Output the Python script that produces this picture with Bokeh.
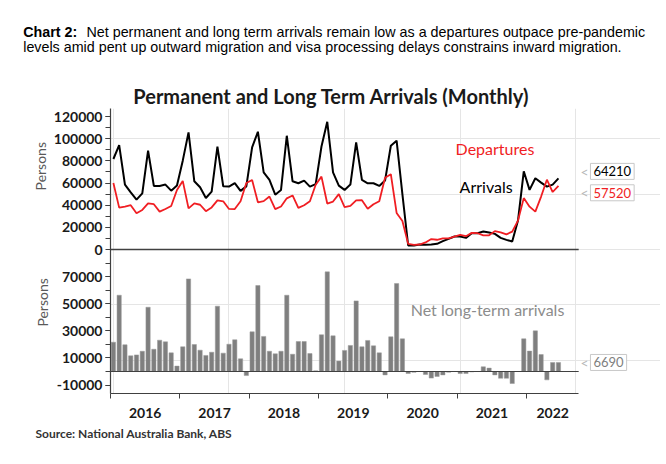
import math
from bokeh.plotting import figure
from bokeh.layouts import column, row
from bokeh.models import Range1d, LinearAxis, FixedTicker, Label
from bokeh.embed import file_html
from bokeh.resources import INLINE

# ---------------- data (monthly, Jan 2016 - Jun 2022) ----------------
years = ["2016", "2017", "2018", "2019", "2020", "2021", "2022"]

arrivals = [
    81700, 94300, 58600, 51600, 45000, 50700, 89200, 57400, 57400, 58600, 53100, 57700,
    80200, 105700, 61600, 56200, 46500, 52300, 92800, 57100, 56800, 60000, 52900, 57000,
    92200, 106300, 69700, 62800, 49500, 53800, 102700, 61600, 59800, 62200, 56800, 59000,
    93000, 115300, 69700, 57700, 53800, 58600, 96700, 62800, 59800, 59800, 57400, 62200,
    93700, 98200, 50000, 3600, 3600, 4500, 4200, 4500, 5100, 7500, 9600, 11700,
    11700, 10500, 14700, 14700, 16200, 15300, 14100, 10500, 8700, 7200, 26100, 70600,
    53800, 64300, 60400, 56800, 58600, 64210,
]

departures = [
    60000, 37800, 38800, 40000, 32700, 35700, 41600, 40900, 34200, 36600, 39300, 53700,
    61900, 37100, 41600, 40400, 34600, 38000, 44400, 43500, 36600, 36500, 43500, 60000,
    62800, 42600, 43700, 47800, 36400, 38800, 46200, 48800, 37600, 40000, 43500, 58500,
    65800, 41500, 43300, 50000, 38200, 39300, 44400, 44500, 36800, 40800, 43600, 64700,
    68000, 33000, 25800, 5100, 4200, 4500, 6400, 9400, 8800, 10000, 10100, 11700,
    13200, 12000, 15000, 14700, 12700, 12800, 16600, 15500, 13700, 16100, 26100, 46400,
    38700, 34200, 47800, 63000, 51900, 57520,
]

net = [
    21700, 56500, 19800, 11600, 12300, 15000, 47600, 16500, 23200, 22000, 13800, 4000,
    18300, 68600, 20000, 15800, 11900, 14300, 48400, 13600, 20200, 23500, 9400, -3000,
    29400, 63700, 26000, 15000, 13100, 15000, 56500, 12800, 22200, 22200, 13300, 500,
    27200, 73800, 26400, 7700, 15600, 19300, 52300, 18300, 23000, 19000, 13800, -2500,
    25700, 65200, 24200, -1500, -600, 0, -2200, -4900, -3700, -2500, -500, 0,
    -1500, -1500, -300, 0, 3500, 2500, -2500, -5000, -5000, -8900, 0, 24200,
    15100, 30100, 12600, -6200, 6700, 6690,
]

top_ticks = [0, 20000, 40000, 60000, 80000, 100000, 120000]
net_ticks = [-10000, 10000, 30000, 50000, 70000]

months = list(range(len(arrivals)))

# ---------------- layout constants (page pixels) ----------------
TOTAL_W = 660
HEAD_H = 108          # header strip: 0..108
MAIN_H = 316          # main chart: 108..424
FOOT_H = 28           # footer: 424..452
LEFT_W = 50           # strip holding the "Persons" labels
MAIN_W = TOTAL_W - LEFT_W
FRAME_L = 110         # page x of plot frame left
FRAME_T = HEAD_H      # page y of plot frame top
FRAME_B = 393         # page y of plot frame bottom
MONTH_PX = 5.78
TOP_ZERO_Y, TOP_PER_PX = 249, 902.8     # upper panel: page y of 0, persons per px
NET_ZERO_Y, NET_PER_PX = 371, 740.7     # lower panel

X_LO = -0.5
X_AX_END = 80.5
X_HI = X_LO + (TOTAL_W - FRAME_L) / MONTH_PX
TOP_LO = -(FRAME_B - TOP_ZERO_Y) * TOP_PER_PX
TOP_HI = (TOP_ZERO_Y - FRAME_T) * TOP_PER_PX
NET_LO = -(FRAME_B - NET_ZERO_Y) * NET_PER_PX
NET_HI = (NET_ZERO_Y - FRAME_T) * NET_PER_PX
FONT = "Lato"
AX = "#404040"


def to_top(v):
    return TOP_LO + (v - NET_LO) / (NET_HI - NET_LO) * (TOP_HI - TOP_LO)


def blank(w, h, x0, y0):
    """figure whose data coordinates equal page pixel coordinates"""
    f = figure(width=w, height=h, output_backend="svg", toolbar_location=None,
               x_range=Range1d(x0, x0 + w), y_range=Range1d(y0 + h, y0),
               min_border=0, x_axis_location=None, y_axis_location=None, title=None)
    f.outline_line_color = None
    f.center = []
    f.renderers = []
    return f


# ---------------- header ----------------
HF = "14.3px"
head = blank(TOTAL_W, HEAD_H, 0, 0)
head.add_layout(Label(x=22.7, y=31.5, text="Chart 2:", text_font="Liberation Sans",
                      text_font_style="bold", text_font_size=HF, text_color="black",
                      text_baseline="alphabetic"))
head.add_layout(Label(x=86, y=31.5,
                      text="Net permanent and long term arrivals remain low as a departures outpace pre-pandemic",
                      text_font="Liberation Sans", text_font_size=HF, text_color="black",
                      text_baseline="alphabetic"))
head.add_layout(Label(x=22.7, y=46.5,
                      text="levels amid pent up outward migration and visa processing delays constrains inward migration.",
                      text_font="Liberation Sans", text_font_size=HF, text_color="black",
                      text_baseline="alphabetic"))
head.add_layout(Label(x=331, y=95, text="Permanent and Long Term Arrivals (Monthly)",
                      text_font=FONT, text_font_style="bold", text_font_size="20px",
                      text_color="#1a1a1a", text_align="center", text_baseline="middle"))

# ---------------- left strip ----------------
left = blank(LEFT_W, MAIN_H, 0, HEAD_H)
for px, py in [(40, 172), (42, 323)]:
    left.add_layout(Label(x=px, y=py, text="Persons", text_font=FONT, text_font_size="14px",
                          text_color="#595959", angle=math.pi / 2, text_align="center",
                          text_baseline="middle"))

# ---------------- footer ----------------
foot = blank(TOTAL_W, FOOT_H, 0, HEAD_H + MAIN_H)
foot.add_layout(Label(x=35, y=433, text="Source: National Australia Bank, ABS", text_font=FONT,
                      text_font_style="bold", text_font_size="12px", text_color="#333333",
                      text_baseline="middle"))

# ---------------- main chart ----------------
p = figure(width=MAIN_W, height=MAIN_H, output_backend="svg", toolbar_location=None,
           x_range=Range1d(X_LO, X_HI), y_range=Range1d(TOP_LO, TOP_HI),
           x_axis_location=None, y_axis_location=None, title=None,
           min_border_left=FRAME_L - LEFT_W, min_border_right=0, min_border_top=0,
           min_border_bottom=HEAD_H + MAIN_H - FRAME_B)
p.extra_y_ranges = {"net": Range1d(NET_LO, NET_HI)}
p.outline_line_color = None

p.vbar(x=months, top=net, bottom=0, width=0.74, fill_color="#7f7f7f",
       line_color="#9a9a9a", line_width=0.5, y_range_name="net")
p.line(months, arrivals, line_color="black", line_width=2)
p.line(months, departures, line_color="#f01e23", line_width=1.8)

# zero rules of both panels, ending where the time axis ends
p.segment(x0=[X_LO], x1=[X_AX_END], y0=[0], y1=[0], line_color=AX, line_width=1.5)
p.segment(x0=[X_LO], x1=[X_AX_END], y0=[0], y1=[0], line_color=AX, line_width=1.2,
          y_range_name="net")

# left axis shared by both panels
top_minor = list(range(10000, 130000, 10000))
net_minor = list(range(-10000, 90000, 10000))
yt = [float(t) for t in top_ticks] + [round(to_top(v), 3) for v in net_ticks]
ym = [float(t) for t in top_minor] + [round(to_top(v), 3) for v in net_minor]
overrides = {}
for t in top_ticks:
    overrides[float(t)] = str(t)
for v in net_ticks:
    overrides[round(to_top(v), 3)] = str(v)

yax = LinearAxis(ticker=FixedTicker(ticks=yt, minor_ticks=ym),
                 major_label_overrides=overrides,
                 axis_line_color=AX, axis_line_width=1.2,
                 major_tick_line_color=AX, minor_tick_line_color=AX,
                 major_tick_in=0, major_tick_out=5, minor_tick_in=0, minor_tick_out=5,
                 major_label_text_font=FONT, major_label_text_font_size="14px",
                 major_label_text_font_style="bold",
                 major_label_text_color="#1a1a1a", major_label_standoff=3)
p.add_layout(yax, "left")

# bottom axis: year boundaries as ticks, labels centred in each year
bounds = [X_LO + 12 * i for i in range(len(years))]
centers = [min(b + 6.0, (b + X_AX_END) / 2.0) for b in bounds]
xax = LinearAxis(ticker=FixedTicker(ticks=centers, minor_ticks=bounds),
                 major_label_overrides={c: y for c, y in zip(centers, years)},
                 bounds=(X_LO, X_AX_END),
                 axis_line_color=AX, axis_line_width=1.2,
                 major_tick_in=0, major_tick_out=0,
                 minor_tick_line_color=AX, minor_tick_in=0, minor_tick_out=5,
                 major_label_text_font=FONT, major_label_text_font_size="14px",
                 major_label_text_font_style="bold",
                 major_label_text_color="#1a1a1a", major_label_standoff=9)
p.add_layout(xax, "below")


def frame_label(px, py, **kw):
    p.add_layout(Label(x=px - FRAME_L, y=FRAME_B - py, x_units="screen", y_units="screen",
                       text_font=FONT, text_font_size="16px", text_align="center",
                       text_baseline="middle", **kw))


frame_label(494.5, 148, text="Departures", text_color="#f01e23")
frame_label(485.6, 186, text="Arrivals", text_color="black")
frame_label(487, 309, text="Net long-term arrivals", text_color="#8c8c8c")

# end-value callouts
last = months[-1]
callouts = [
    (arrivals[-1], None, 7, "black"),
    (departures[-1], None, -7, "#f01e23"),
    (net[-1], "net", 0, "#808080"),
]
for val, rng, dy, col in callouts:
    extra = {"y_range_name": rng} if rng else {}
    p.add_layout(Label(x=last, y=val, x_offset=32, y_offset=dy, text=f"{val}",
                       text_font=FONT, text_font_size="13px", text_color=col,
                       text_baseline="middle", padding=3,
                       border_line_color="#c8c8c8", border_line_width=1,
                       background_fill_color="white", **extra))
    p.add_layout(Label(x=last, y=val, x_offset=22, y_offset=dy, text="<",
                       text_font=FONT, text_font_size="14px", text_color="#b8b8b8",
                       text_baseline="middle", **extra))

layout = column(head, row(left, p), foot)
open("out.html", "w").write(file_html(layout, INLINE))
